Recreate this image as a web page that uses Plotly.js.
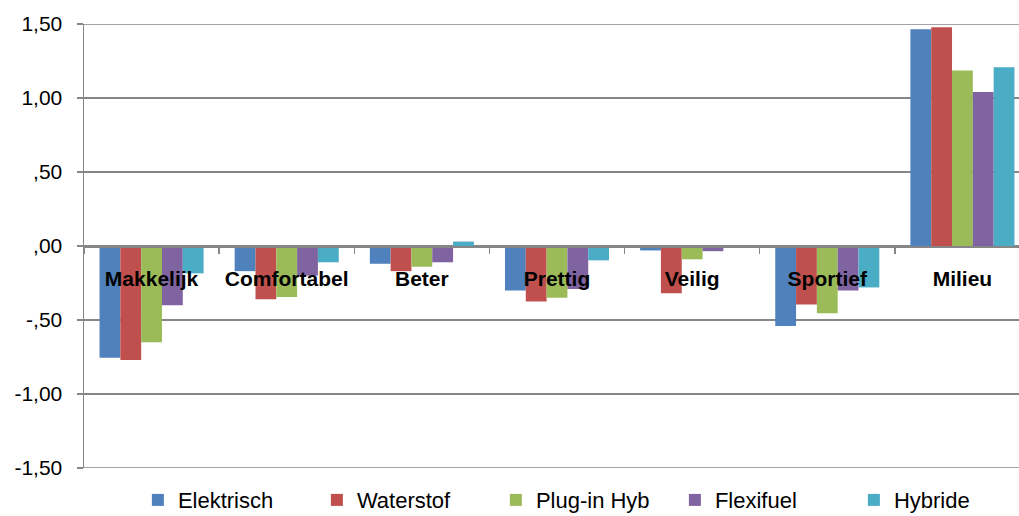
<!DOCTYPE html>
<html>
<head>
<meta charset="utf-8">
<script src="https://cdn.plot.ly/plotly-3.0.1.min.js"></script>
<style>
html,body{margin:0;padding:0;overflow:hidden;background:#fff;}
#chart{width:1031px;height:516px;}
</style>
</head>
<body>
<div id="chart"></div>
<script>
const categories = ["Makkelijk","Comfortabel","Beter","Prettig","Veilig","Sportief","Milieu"];
const seriesNames = ["Elektrisch","Waterstof","Plug-in Hyb","Flexifuel","Hybride"];
const elektrisch = [-0.755,-0.17,-0.12,-0.30,-0.03,-0.54,1.465];
const waterstof  = [-0.77,-0.36,-0.17,-0.375,-0.32,-0.395,1.478];
const pluginHyb  = [-0.65,-0.345,-0.14,-0.35,-0.09,-0.455,1.185];
const flexifuel  = [-0.40,-0.20,-0.11,-0.29,-0.035,-0.30,1.04];
const hybride    = [-0.185,-0.11,0.03,-0.097,-0.01,-0.28,1.207];
const tickVals = [1.5,1.0,0.5,0,-0.5,-1.0,-1.5];
const tickText = ["1,50","1,00",",50",",00","-,50","-1,00","-1,50"];
const colors = ["#4F81BD","#C0504D","#9BBB59","#8064A2","#4BACC6"];

const values = [elektrisch,waterstof,pluginHyb,flexifuel,hybride];
const traces = values.map((v,i)=>({
  type:'bar', name:seriesNames[i], x:categories, y:v,
  marker:{color:colors[i], line:{width:0}}
}));

const yMax = Math.max(...tickVals), yMin = Math.min(...tickVals);
const edgeGrid = [yMax, yMin].map(v=>({
  type:'line', xref:'paper', yref:'y', x0:0, x1:1, y0:v, y1:v,
  line:{color:'#868686', width:1.3}, layer:'below'
}));

const layout = {
  width:1031, height:516,
  margin:{l:84,r:1,t:24,b:48, autoexpand:false},
  paper_bgcolor:'#fff', plot_bgcolor:'#fff',
  barmode:'group', bargap:0.23, bargroupgap:0,
  font:{family:'Liberation Sans, Arial, sans-serif', color:'#000'},
  xaxis:{
    type:'category', anchor:'free', position:0.5,
    showline:true, linecolor:'#868686', linewidth:1.5,
    ticks:'outside', tickson:'boundaries', ticklen:6, tickcolor:'#868686', tickwidth:1.5,
    ticklabelstandoff:13,
    tickfont:{size:21, family:'Liberation Sans, Arial, sans-serif', weight:'bold', color:'#000'},
    showgrid:false, fixedrange:true
  },
  yaxis:{
    range:[yMin, yMax], tickvals:tickVals, ticktext:tickText,
    showline:true, linecolor:'#868686', linewidth:1.5,
    ticks:'outside', ticklen:6, tickcolor:'#868686', tickwidth:1.5,
    showgrid:true, gridcolor:'#868686', gridwidth:1.3,
    zeroline:false,
    tickfont:{size:21, color:'#000'},
    ticklabelstandoff:10
  },
  shapes: edgeGrid,
  showlegend:true,
  legend:{
    orientation:'h', x:0.53, xanchor:'center', y:-0.025, yanchor:'top',
    font:{size:22, family:'Liberation Sans, Arial, sans-serif', color:'#000'},
    traceorder:'normal', itemwidth:30, entrywidth:134, entrywidthmode:'pixels'
  }
};
Plotly.newPlot('chart', traces, layout, {displayModeBar:false, staticPlot:true});
</script>
</body>
</html>
